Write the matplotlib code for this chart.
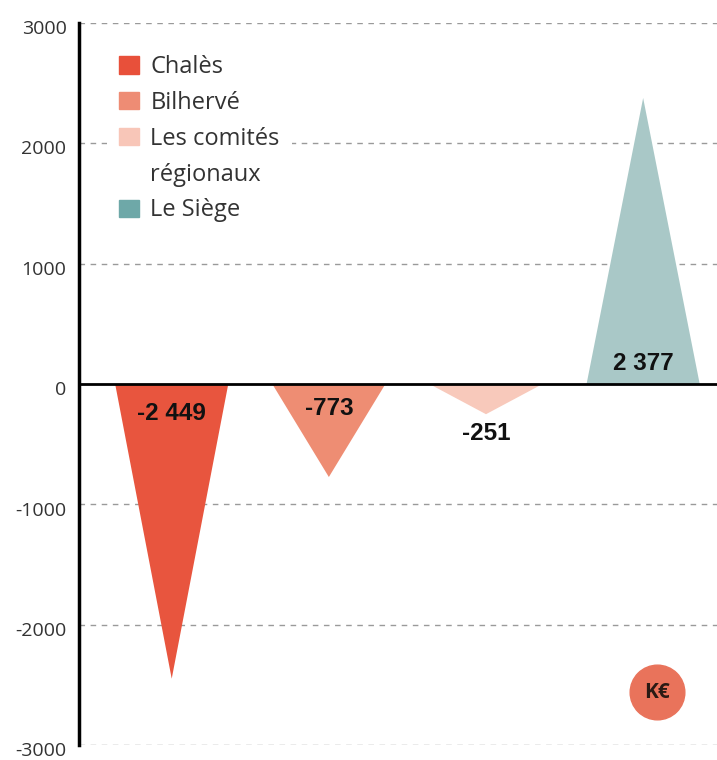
import matplotlib.pyplot as plt
from matplotlib.patches import Patch
from matplotlib.transforms import ScaledTranslation

# Data
categories = ["Chalès", "Bilhervé", "Les comités\nrégionaux", "Le Siège"]
values = [-2449, -773, -251, 2377]
value_labels = ["-2 449", "-773", "-251", "2 377"]
label_y = [-242, -200, -410, 167]
tri_colors = ["#e8553e", "#ee8d73", "#f8c9bb", "#a9c8c7"]
legend_colors = ["#e8503a", "#ee8c74", "#f8c6b8", "#6ea8a8"]
yticks = [3000, 2000, 1000, 0, -1000, -2000, -3000]

plt.rcParams['font.family'] = ['Open Sans', 'DejaVu Sans']

fig = plt.figure(figsize=(7.17, 7.6), dpi=100)
ax = fig.add_axes([79 / 717, 15 / 760, 638 / 717, 722 / 760])

half_w = 0.36
for i, (v, c) in enumerate(zip(values, tri_colors)):
    ax.fill([i - half_w, i + half_w, i], [0, 0, v], color=c, lw=0, zorder=2)

for i, (lab, ly) in enumerate(zip(value_labels, label_y)):
    ax.text(i, ly, lab, ha='center', va='center', fontsize=17.5,
            fontweight='bold', color='#111111', zorder=4,
            family=['Liberation Sans', 'DejaVu Sans'])

ax.axhline(0, color='black', lw=2, zorder=3)
for t in yticks:
    if t != 0:
        ax.axhline(t, color='#9a9a9a', lw=1, ls=(0, (4, 4)), zorder=1)

ax.set_xlim(-0.59, 3.47)
ax.set_ylim(-3000, 3000)
ax.set_yticks(yticks)
ax.set_yticklabels([str(t) for t in yticks], fontsize=14, color='#333333')
ax.tick_params(axis='y', length=0, pad=9)
ax.set_xticks([])
shift = ScaledTranslation(0, -3 / 72, fig.dpi_scale_trans)
for lbl in ax.get_yticklabels():
    lbl.set_transform(lbl.get_transform() + shift)

for s in ['top', 'right', 'bottom']:
    ax.spines[s].set_visible(False)
ax.spines['left'].set_linewidth(2.5)
ax.spines['left'].set_color('black')

# K€ badge
ax.scatter([3.09], [-2560], s=1550, color='#e9735b', zorder=5)
ax.text(3.09, -2560, "K€", ha='center', va='center', fontsize=15,
        fontweight='bold', color='#2a1a14', zorder=6)

# legend with the second line of the long label as its own row
handles = [Patch(color=legend_colors[0]), Patch(color=legend_colors[1]),
           Patch(color=legend_colors[2]), Patch(color='none'),
           Patch(color=legend_colors[3])]
labels = ["Chalès", "Bilhervé", "Les comités", "régionaux", "Le Siège"]
leg = ax.legend(handles, labels, loc='upper left', bbox_to_anchor=(0.025, 0.988),
                fontsize=17, frameon=True, facecolor='white', edgecolor='none',
                framealpha=1, handlelength=0.85, handleheight=0.75,
                handletextpad=0.5, labelspacing=0.5, borderpad=0.5)
for txt in leg.get_texts():
    txt.set_color('#333333')

fig.savefig("out.png", dpi=100)
